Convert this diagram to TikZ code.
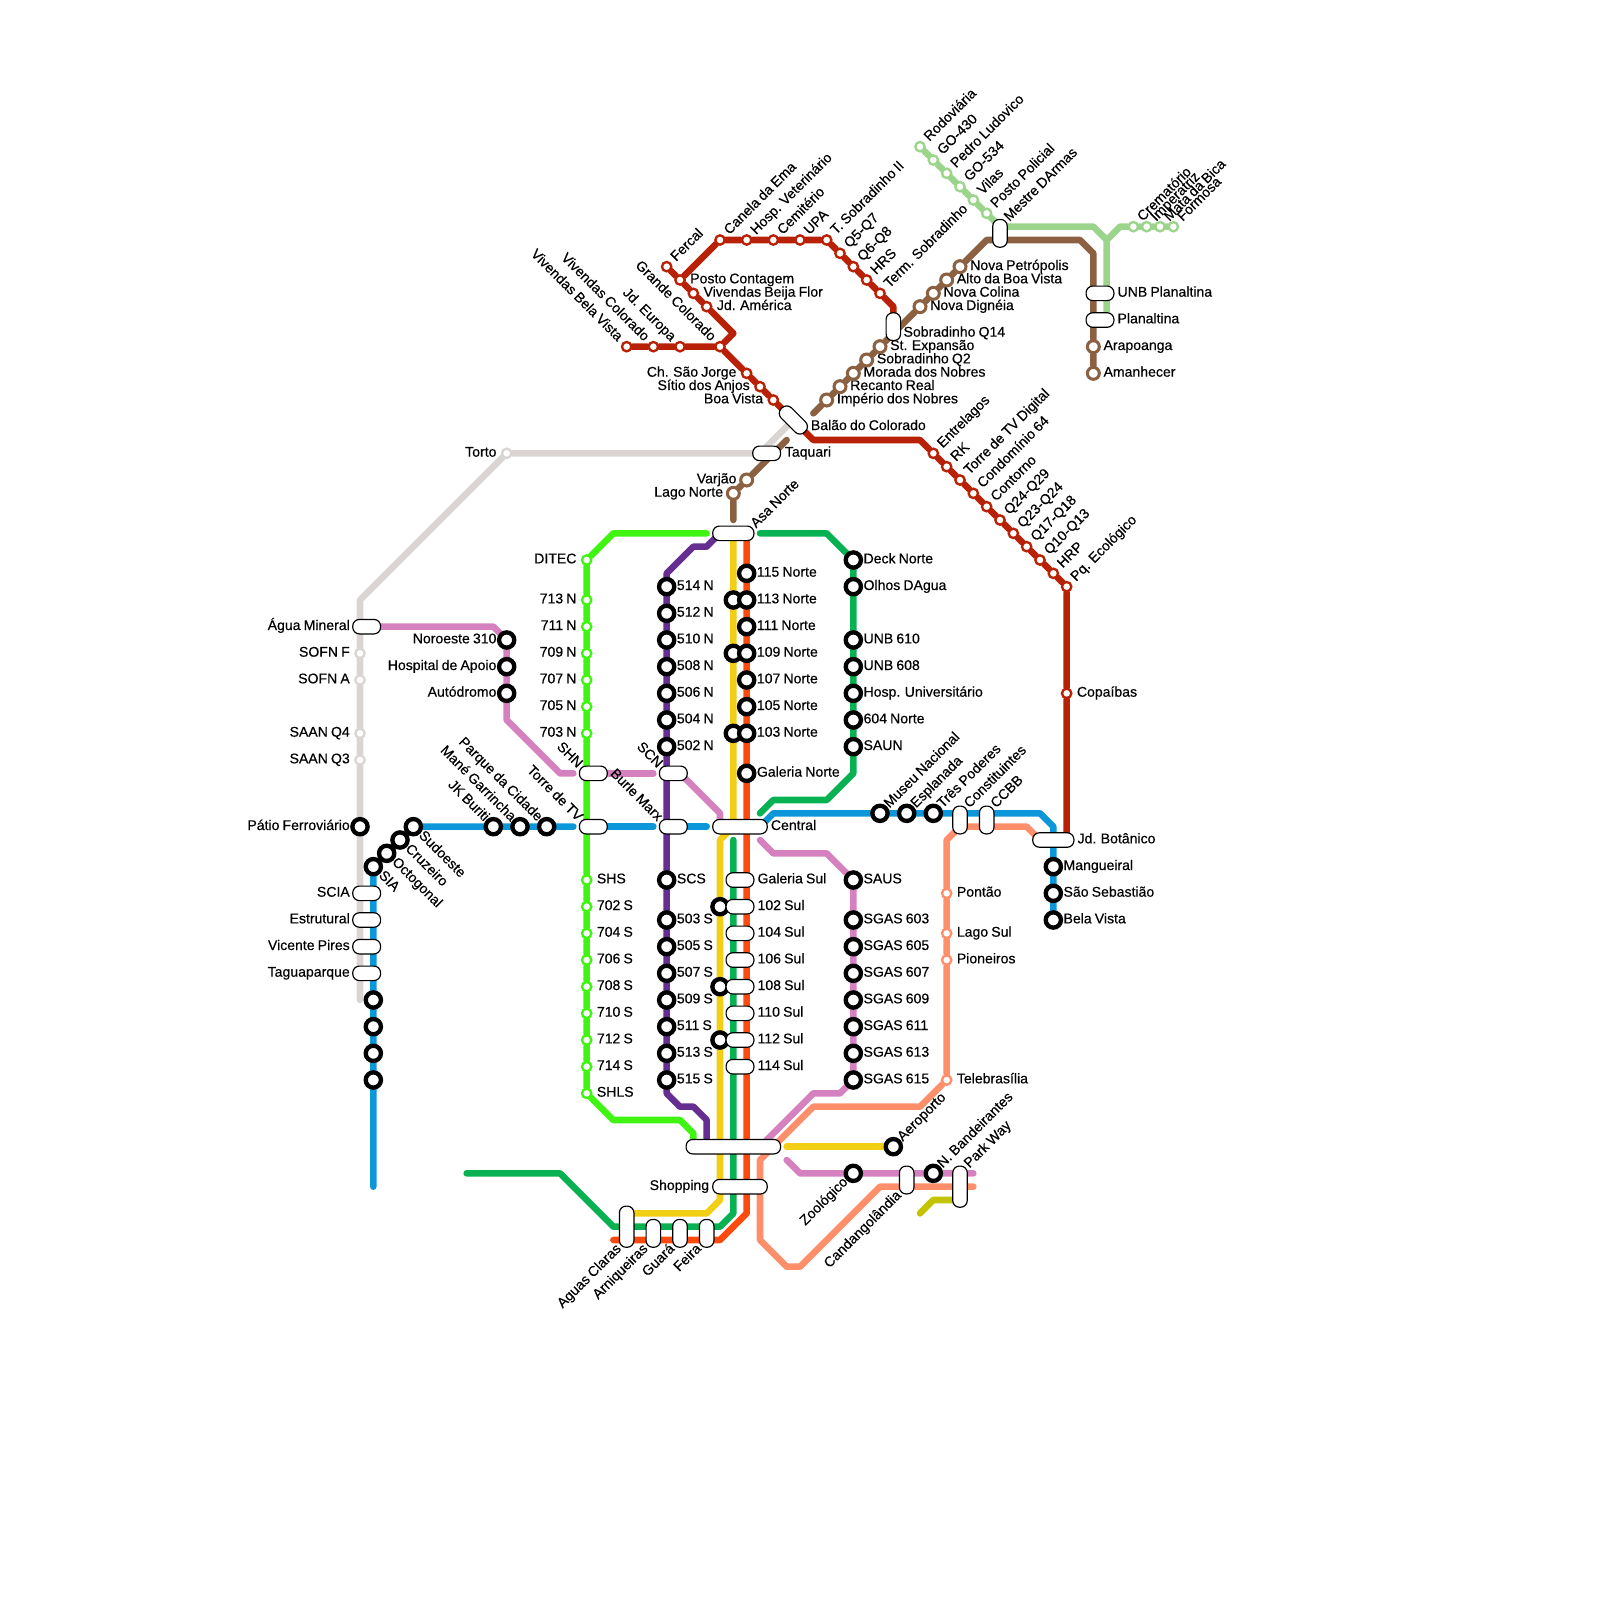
\documentclass[tikz,border=0pt]{standalone}
\usepackage{fontspec}
\setmainfont{Liberation Sans}[FakeBold=0.4,WordSpace=0.8]
\usepackage{xcolor}
\pgfdeclarelayer{lines}
\pgfsetlayers{lines,main}
\definecolor{lnRed}{HTML}{B82106}
\definecolor{lnBrown}{HTML}{8C6142}
\definecolor{lnLeaf}{HTML}{9BD48B}
\definecolor{lnGray}{HTML}{DAD5D3}
\definecolor{lnBlue}{HTML}{0B97DA}
\definecolor{lnPink}{HTML}{D681BF}
\definecolor{lnSalmon}{HTML}{FF8E6B}
\definecolor{lnLime}{HTML}{40F511}
\definecolor{lnPurple}{HTML}{662E91}
\definecolor{lnYellow}{HTML}{F2CE14}
\definecolor{lnGreen}{HTML}{08B152}
\definecolor{lnOrange}{HTML}{FF4A0E}
\definecolor{lnOlive}{HTML}{C3C300}
\tikzset{
  stopK/.style={circle, draw=black, fill=white, line width=3.7pt, minimum size=13pt, inner sep=0pt},
  stopS/.style={circle, draw=#1, fill=white, line width=2pt, minimum size=8pt, inner sep=0pt},
  stopM/.style={circle, draw=#1, fill=white, line width=2.6pt, minimum size=10.2pt, inner sep=0pt},
  boxH/.style={draw=black, fill=white, line width=1pt, rounded corners=2mm, minimum width=#1*4mm+1pt, minimum height=4mm+1pt, inner sep=0pt},
  boxV/.style={draw=black, fill=white, line width=1pt, rounded corners=2mm, minimum width=4mm+1pt, minimum height=#1*4mm+1pt, inner sep=0pt},
  lblTxt/.style={font=\fontsize{12}{14}\selectfont, inner sep=0pt},
  posE/.style n args={3}{append after command={node[lblTxt,anchor=base west,xshift=#1*4mm,yshift=(-1)*(#2)*4mm] (\tikzlastnode-t) at (\tikzlastnode.center) {#3}}},
  posW/.style n args={3}{append after command={node[lblTxt,anchor=base east,xshift=#1*4mm,yshift=(-1)*(#2)*4mm] (\tikzlastnode-t) at (\tikzlastnode.center) {#3}}},
  posNE/.style n args={3}{append after command={node[lblTxt,anchor=base west,xshift=#1*4mm,yshift=(-1)*(#2)*4mm,rotate=45] (\tikzlastnode-t) at (\tikzlastnode.center) {#3}}},
  posNW/.style n args={3}{append after command={node[lblTxt,anchor=base east,xshift=#1*4mm,yshift=(-1)*(#2)*4mm,rotate=-45] (\tikzlastnode-t) at (\tikzlastnode.center) {#3}}},
  posSE/.style n args={3}{append after command={node[lblTxt,anchor=base west,xshift=#1*4mm,yshift=(-1)*(#2)*4mm,rotate=-45] (\tikzlastnode-t) at (\tikzlastnode.center) {#3}}},
  posSW/.style n args={3}{append after command={node[lblTxt,anchor=base east,xshift=#1*4mm,yshift=(-1)*(#2)*4mm,rotate=45] (\tikzlastnode-t) at (\tikzlastnode.center) {#3}}},
  txtE/.style={posE={.75}{.25}{#1}},
  txtW/.style={posW={-.75}{.25}{#1}},
  txtNE/.style={posNE={.7}{-.35}{#1}},
  txtNW/.style={posNW={-.7}{-.35}{#1}},
  txtSE/.style={posSE={.35}{.7}{#1}},
  txtSW/.style={posSW={-.35}{.7}{#1}},
  metro/.style={draw=#1, line width=5.6pt, line cap=round, line join=round}
}
\begin{document}
\begin{tikzpicture}[x=0.4cm, y=-0.4cm]
    \useasboundingbox (0,0) rectangle (120,120);

    % 1. Vermelha
    \node[stopS=lnRed, txtNE={Fercal}] (fercal) at (50,20) {};
    \node[stopS=lnRed, txtE={Posto Contagem}] (contagem) at (51,21) {};
    \node[stopS=lnRed, txtE={Vivendas Beija Flor}] (beijaFlor) at (52,22) {};
    \node[stopS=lnRed, txtE={Jd. América}] (jdAmerica) at (53,23) {};
    \node[stopS=lnRed, txtNE={Canela da Ema}] (canela) at (54,18) {};
    \node[stopS=lnRed, txtNE={Hosp. Veterinário}] (hospVet) at (56,18) {};
    \node[stopS=lnRed, txtNE={Cemitério}] (cemiterio) at (58,18) {};
    \node[stopS=lnRed, txtNE={UPA}] (upa) at (60,18) {};
    \node[stopS=lnRed, txtNE={T. Sobradinho II}] (tSobII) at (62,18) {};
    \node[stopS=lnRed, txtNE={Q5-Q7}] (qFive) at (63,19) {};
    \node[stopS=lnRed, txtNE={Q6-Q8}] (qSix) at (64,20) {};
    \node[stopS=lnRed, txtNE={HRS}] (hrs) at (65,21) {};
    \node[stopS=lnRed, txtNE={Term. Sobradinho}] (termSob) at (66,22) {};
    \node[stopS=lnRed, txtNW={Vivendas Bela Vista}] (belaVistaV) at (47,26) {};
    \node[stopS=lnRed, txtNW={Vivendas Colorado}] (vivColorado) at (49,26) {};
    \node[stopS=lnRed, txtNW={Jd. Europa}] (jdEuropa) at (51,26) {};
    \node[stopS=lnRed, txtNW={Grande Colorado}] (grandeCol) at (54,26) {};
    \node[stopS=lnRed, txtW={Ch. São Jorge}] (chSaoJorge) at (56,28) {};
    \node[stopS=lnRed, txtW={Sítio dos Anjos}] (sitioAnjos) at (57,29) {};
    \node[stopS=lnRed, txtW={Boa Vista}] (boaVista) at (58,30) {};
    \node[stopS=lnRed, txtNE={Entrelagos}] (entrelagos) at (70,34) {};
    \node[stopS=lnRed, txtNE={RK}] (rk) at (71,35) {};
    \node[stopS=lnRed, txtNE={Torre de TV Digital}] (torreDig) at (72,36) {};
    \node[stopS=lnRed, txtNE={Condomínio 64}] (condominio) at (73,37) {};
    \node[stopS=lnRed, txtNE={Contorno}] (contorno) at (74,38) {};
    \node[stopS=lnRed, txtNE={Q24-Q29}] (qTwoFour) at (75,39) {};
    \node[stopS=lnRed, txtNE={Q23-Q24}] (qTwoThree) at (76,40) {};
    \node[stopS=lnRed, txtNE={Q17-Q18}] (qSeventeen) at (77,41) {};
    \node[stopS=lnRed, txtNE={Q10-Q13}] (qTen) at (78,42) {};
    \node[stopS=lnRed, txtNE={HRP}] (hrp) at (79,43) {};
    \node[stopS=lnRed, txtNE={Pq. Ecológico}] (pqEco) at (80,44) {};
    \node[stopS=lnRed, txtE={Copaíbas}] (copaibas) at (80,52) {};

    % 2. Marrom e verde claro
    \node[stopM=lnBrown, txtW={Lago Norte}] (lagoNorte) at (55,37) {};
    \node[stopM=lnBrown, txtW={Varjão}] (varjao) at (56,36) {};
    \node[stopM=lnBrown, txtE={Império dos Nobres}] (imperio) at (62,30) {};
    \node[stopM=lnBrown, txtE={Recanto Real}] (recanto) at (63,29) {};
    \node[stopM=lnBrown, txtE={Morada dos Nobres}] (morada) at (64,28) {};
    \node[stopM=lnBrown, txtE={Sobradinho Q2}] (sobQTwo) at (65,27) {};
    \node[stopM=lnBrown, txtE={St. Expansão}] (stExpansao) at (66,26) {};
    \node[stopM=lnBrown, txtE={Nova Dignéia}] (novaDigneia) at (69,23) {};
    \node[stopM=lnBrown, txtE={Nova Colina}] (novaColina) at (70,22) {};
    \node[stopM=lnBrown, txtE={Alto da Boa Vista}] (altoBoaVista) at (71,21) {};
    \node[stopM=lnBrown, txtE={Nova Petrópolis}] (novaPetro) at (72,20) {};
    \node[stopM=lnBrown, txtE={Arapoanga}] (arapoanga) at (82,26) {};
    \node[stopM=lnBrown, txtE={Amanhecer}] (amanhecer) at (82,28) {};
    \node[stopS=lnLeaf, txtNE={Rodoviária}] (rodoviaria) at (69,11) {};
    \node[stopS=lnLeaf, txtNE={GO-430}] (goFour) at (70,12) {};
    \node[stopS=lnLeaf, txtNE={Pedro Ludovico}] (pedroLud) at (71,13) {};
    \node[stopS=lnLeaf, txtNE={GO-534}] (goFive) at (72,14) {};
    \node[stopS=lnLeaf, txtNE={Vilas}] (vilas) at (73,15) {};
    \node[stopS=lnLeaf, txtNE={Posto Policial}] (postoPol) at (74,16) {};
    \node[stopS=lnLeaf, txtNE={Crematório}] (crematorio) at (85,17) {};
    \node[stopS=lnLeaf, txtNE={Imperatriz}] (imperatriz) at (86,17) {};
    \node[stopS=lnLeaf, txtNE={Mata da Bica}] (mataBica) at (87,17) {};
    \node[stopS=lnLeaf, txtNE={Formosa}] (formosa) at (88,17) {};

    % 3. Cinza, azul e rosa
    \node[stopS=lnGray, txtW={Torto}] (torto) at (38,34) {};
    \node[stopS=lnGray, txtW={SOFN F}] (sofnF) at (27,49) {};
    \node[stopS=lnGray, txtW={SOFN A}] (sofnA) at (27,51) {};
    \node[stopS=lnGray, txtW={SAAN Q4}] (saanQFour) at (27,55) {};
    \node[stopS=lnGray, txtW={SAAN Q3}] (saanQThree) at (27,57) {};
    \node[stopK, txtW={Pátio Ferroviário}] (patio) at (27,62) {};
    \node[stopK, txtSE={SIA}] (sia) at (28,65) {};
    \node[stopK, txtSE={Octogonal}] (octogonal) at (29,64) {};
    \node[stopK, txtSE={Cruzeiro}] (cruzeiro) at (30,63) {};
    \node[stopK, txtSE={Sudoeste}] (sudoeste) at (31,62) {};
    \node[stopK, txtNW={JK Buriti}] (jkBuriti) at (37,62) {};
    \node[stopK, txtNW={Mané Garrincha}] (maneGar) at (39,62) {};
    \node[stopK, txtNW={Parque da Cidade}] (parqueCid) at (41,62) {};
    \node[stopK] (oesteA) at (28,75) {};
    \node[stopK] (oesteB) at (28,77) {};
    \node[stopK] (oesteC) at (28,79) {};
    \node[stopK] (oesteD) at (28,81) {};
    \node[stopK, txtNE={Museu Nacional}] (museu) at (66,61) {};
    \node[stopK, txtNE={Esplanada}] (esplanada) at (68,61) {};
    \node[stopK, txtNE={Três Poderes}] (tresPod) at (70,61) {};
    \node[stopK, txtE={Mangueiral}] (mangueiral) at (79,65) {};
    \node[stopK, txtE={São Sebastião}] (saoSeb) at (79,67) {};
    \node[stopK, txtE={Bela Vista}] (belaVista) at (79,69) {};
    \node[stopK, txtW={Noroeste 310}] (noroeste) at (38,48) {};
    \node[stopK, txtW={Hospital de Apoio}] (hospApoio) at (38,50) {};
    \node[stopK, txtW={Autódromo}] (autodromo) at (38,52) {};
    \node[stopK, txtE={SAUS}] (saus) at (64,66) {};
    \node[stopK, txtE={SGAS 603}] (sgasA) at (64,69) {};
    \node[stopK, txtE={SGAS 605}] (sgasB) at (64,71) {};
    \node[stopK, txtE={SGAS 607}] (sgasC) at (64,73) {};
    \node[stopK, txtE={SGAS 609}] (sgasD) at (64,75) {};
    \node[stopK, txtE={SGAS 611}] (sgasE) at (64,77) {};
    \node[stopK, txtE={SGAS 613}] (sgasF) at (64,79) {};
    \node[stopK, txtE={SGAS 615}] (sgasG) at (64,81) {};
    \node[stopK, txtSW={Zoológico}] (zoologico) at (64,88) {};
    \node[stopK, txtNE={N. Bandeirantes}] (nBandeir) at (70,88) {};

    % 4. Salmao
    \node[stopS=lnSalmon, txtE={Pontão}] (pontao) at (71,67) {};
    \node[stopS=lnSalmon, txtE={Lago Sul}] (lagoSul) at (71,70) {};
    \node[stopS=lnSalmon, txtE={Pioneiros}] (pioneiros) at (71,72) {};
    \node[stopS=lnSalmon, txtE={Telebrasília}] (telebras) at (71,81) {};

    % 5. Verde limao
    \node[stopS=lnLime, txtW={DITEC}] (ditec) at (44,42) {};
    \node[stopS=lnLime, txtW={713 N}] (nSevenA) at (44,45) {};
    \node[stopS=lnLime, txtW={711 N}] (nSevenB) at (44,47) {};
    \node[stopS=lnLime, txtW={709 N}] (nSevenC) at (44,49) {};
    \node[stopS=lnLime, txtW={707 N}] (nSevenD) at (44,51) {};
    \node[stopS=lnLime, txtW={705 N}] (nSevenE) at (44,53) {};
    \node[stopS=lnLime, txtW={703 N}] (nSevenF) at (44,55) {};
    \node[stopS=lnLime, txtE={SHS}] (shs) at (44,66) {};
    \node[stopS=lnLime, txtE={702 S}] (sSevenA) at (44,68) {};
    \node[stopS=lnLime, txtE={704 S}] (sSevenB) at (44,70) {};
    \node[stopS=lnLime, txtE={706 S}] (sSevenC) at (44,72) {};
    \node[stopS=lnLime, txtE={708 S}] (sSevenD) at (44,74) {};
    \node[stopS=lnLime, txtE={710 S}] (sSevenE) at (44,76) {};
    \node[stopS=lnLime, txtE={712 S}] (sSevenF) at (44,78) {};
    \node[stopS=lnLime, txtE={714 S}] (sSevenG) at (44,80) {};
    \node[stopS=lnLime, txtE={SHLS}] (shls) at (44,82) {};

    % 6. Roxa
    \node[stopK, txtE={514 N}] (nFiveA) at (50,44) {};
    \node[stopK, txtE={512 N}] (nFiveB) at (50,46) {};
    \node[stopK, txtE={510 N}] (nFiveC) at (50,48) {};
    \node[stopK, txtE={508 N}] (nFiveD) at (50,50) {};
    \node[stopK, txtE={506 N}] (nFiveE) at (50,52) {};
    \node[stopK, txtE={504 N}] (nFiveF) at (50,54) {};
    \node[stopK, txtE={502 N}] (nFiveG) at (50,56) {};
    \node[stopK, txtE={SCS}] (scs) at (50,66) {};
    \node[stopK, txtE={503 S}] (sFiveA) at (50,69) {};
    \node[stopK, txtE={505 S}] (sFiveB) at (50,71) {};
    \node[stopK, txtE={507 S}] (sFiveC) at (50,73) {};
    \node[stopK, txtE={509 S}] (sFiveD) at (50,75) {};
    \node[stopK, txtE={511 S}] (sFiveE) at (50,77) {};
    \node[stopK, txtE={513 S}] (sFiveF) at (50,79) {};
    \node[stopK, txtE={515 S}] (sFiveG) at (50,81) {};

    % 7. Amarela, verde e laranja
    \node[stopK] (amarA) at (55,45) {};
    \node[stopK] (amarB) at (55,49) {};
    \node[stopK] (amarC) at (55,55) {};
    \node[stopK] (amarD) at (54,68) {};
    \node[stopK] (amarE) at (54,74) {};
    \node[stopK] (amarF) at (54,78) {};
    \node[stopK, txtNE={Aeroporto}] (aeroporto) at (67,86) {};
    \node[stopK, txtE={Deck Norte}] (deckNorte) at (64,42) {};
    \node[stopK, txtE={Olhos DAgua}] (olhosDagua) at (64,44) {};
    \node[stopK, txtE={UNB 610}] (unbSixTen) at (64,48) {};
    \node[stopK, txtE={UNB 608}] (unbSixEight) at (64,50) {};
    \node[stopK, txtE={Hosp. Universitário}] (hospUniv) at (64,52) {};
    \node[stopK, txtE={604 Norte}] (sixNorte) at (64,54) {};
    \node[stopK, txtE={SAUN}] (saun) at (64,56) {};
    \node[stopK, txtE={115 Norte}] (norteA) at (56,43) {};
    \node[stopK, txtE={113 Norte}] (norteB) at (56,45) {};
    \node[stopK, txtE={111 Norte}] (norteC) at (56,47) {};
    \node[stopK, txtE={109 Norte}] (norteD) at (56,49) {};
    \node[stopK, txtE={107 Norte}] (norteE) at (56,51) {};
    \node[stopK, txtE={105 Norte}] (norteF) at (56,53) {};
    \node[stopK, txtE={103 Norte}] (norteG) at (56,55) {};
    \node[stopK, txtE={Galeria Norte}] (galeriaN) at (56,58) {};

    % 8. Integracoes
    \node[boxH=2, posW={-1.25}{.25}{Água Mineral}] (aguaMin) at (27.5,47) {};
    \node[boxH=2, posW={-1.25}{.25}{SCIA}] (scia) at (27.5,67) {};
    \node[boxH=2, posW={-1.25}{.25}{Estrutural}] (estrutural) at (27.5,69) {};
    \node[boxH=2, posW={-1.25}{.25}{Vicente Pires}] (vicente) at (27.5,71) {};
    \node[boxH=2, posW={-1.25}{.25}{Taguaparque}] (tagua) at (27.5,73) {};
    \node[boxH=2, posNW={-1.2}{-.35}{SHN}] (shn) at (44.5,58) {};
    \node[boxH=2, posNW={-1.2}{-.35}{Torre de TV}] (torreTV) at (44.5,62) {};
    \node[boxH=2, posNW={-1.2}{-.35}{SCN}] (scn) at (50.5,58) {};
    \node[boxH=2, posNW={-1.2}{-.35}{Burle Marx}] (burle) at (50.5,62) {};
    \node[boxH=3, posNE={1.7}{-.35}{Asa Norte}] (asaNorte) at (55,40) {};
    \node[boxH=4, posE={2.3}{.25}{Central}] (central) at (55.5,62) {};
    \node[boxH=2, posE={1.35}{.25}{Taquari}] (taquari) at (57.5,34) {};
    \node[boxH=2.4, rotate=-45, posE={1.3}{.75}{Balão do Colorado}] (balao) at (59.5,31.5) {};
    \node[boxV=2, posE={.75}{.75}{Sobradinho Q14}] (sobQFourteen) at (67,24.5) {};
    \node[boxV=2, posNE={.7}{-.85}{Mestre DArmas}] (mestre) at (75,17.5) {};
    \node[boxH=2, posE={1.3}{.25}{UNB Planaltina}] (unbPlan) at (82.5,22) {};
    \node[boxH=2, posE={1.3}{.25}{Planaltina}] (planaltina) at (82.5,24) {};
    \node[boxV=2, posNE={.7}{-.85}{Constituintes}] (constit) at (72,61.5) {};
    \node[boxV=2, posNE={.7}{-.85}{CCBB}] (ccbb) at (74,61.5) {};
    \node[boxH=3, posE={1.8}{.25}{Jd. Botânico}] (botanico) at (79,63) {};
    \node[boxH=2, posE={1.3}{.25}{Galeria Sul}] (galeriaS) at (55.5,66) {};
    \node[boxH=2, posE={1.3}{.25}{102 Sul}] (sulA) at (55.5,68) {};
    \node[boxH=2, posE={1.3}{.25}{104 Sul}] (sulB) at (55.5,70) {};
    \node[boxH=2, posE={1.3}{.25}{106 Sul}] (sulC) at (55.5,72) {};
    \node[boxH=2, posE={1.3}{.25}{108 Sul}] (sulD) at (55.5,74) {};
    \node[boxH=2, posE={1.3}{.25}{110 Sul}] (sulE) at (55.5,76) {};
    \node[boxH=2, posE={1.3}{.25}{112 Sul}] (sulF) at (55.5,78) {};
    \node[boxH=2, posE={1.3}{.25}{114 Sul}] (sulG) at (55.5,80) {};
    \node[boxH=7] (rodoCentral) at (55,86) {};
    \node[boxH=4, posW={-2.3}{.25}{Shopping}] (shopping) at (55.5,89) {};
    \node[boxV=3, posSW={-.35}{1.7}{Aguas Claras}] (aguasClaras) at (47,92) {};
    \node[boxV=2, posSW={-.35}{1.2}{Arniqueiras}] (arniqueiras) at (49,92.5) {};
    \node[boxV=2, posSW={-.35}{1.2}{Guará}] (guara) at (51,92.5) {};
    \node[boxV=2, posSW={-.35}{1.2}{Feira}] (feira) at (53,92.5) {};
    \node[boxV=2, posSW={-.35}{1.2}{Candangolândia}] (candango) at (68,88.5) {};
    \node[boxV=3, posNE={.7}{-1.35}{Park Way}] (parkWay) at (72,89) {};

    % 9. Linhas por baixo das estacoes
    \begin{pgfonlayer}{lines}
    \draw[metro=lnGray] (27,75) -- (patio) -- (saanQThree) -- (saanQFour) -- (sofnA) -- (sofnF) -- (27,45) -- (torto) -- (57,34) -- (balao);
    \draw[metro=lnRed] (fercal) -- (contagem) -- (beijaFlor) -- (jdAmerica) -- (55,25) -- (grandeCol);
    \draw[metro=lnRed] (contagem) -- (canela) -- (hospVet) -- (cemiterio) -- (upa) -- (tSobII) -- (qFive) -- (qSix) -- (hrs) -- (termSob) -- (67,23) -- (sobQFourteen);
    \draw[metro=lnRed] (belaVistaV) -- (vivColorado) -- (jdEuropa) -- (grandeCol) -- (chSaoJorge) -- (sitioAnjos) -- (boaVista) -- (61,33) -- (69,33) -- (entrelagos) -- (rk) -- (torreDig) -- (condominio) -- (contorno) -- (qTwoFour) -- (qTwoThree) -- (qSeventeen) -- (qTen) -- (hrp) -- (pqEco) -- (copaibas) -- (80,63);
    \draw[metro=lnBrown] (55,39) -- (lagoNorte) -- (varjao) -- (59,33);
    \draw[metro=lnBrown] (61,31) -- (imperio) -- (recanto) -- (morada) -- (sobQTwo) -- (stExpansao) -- (novaDigneia) -- (novaColina) -- (altoBoaVista) -- (novaPetro) -- (74,18) -- (81,18) -- (82,19) -- (arapoanga) -- (amanhecer);
    \draw[metro=lnLeaf] (rodoviaria) -- (goFour) -- (pedroLud) -- (goFive) -- (vilas) -- (postoPol) -- (75,17) -- (82,17) -- (83,18) -- (83,24);
    \draw[metro=lnLeaf] (83,18) -- (84,17) -- (crematorio) -- (imperatriz) -- (mataBica) -- (formosa);
    \draw[metro=lnBlue] (28,89) -- (oesteD) -- (oesteC) -- (oesteB) -- (oesteA) -- (sia) -- (octogonal) -- (cruzeiro) -- (sudoeste) -- (jkBuriti) -- (maneGar) -- (parqueCid) -- (43,62);
    \draw[metro=lnBlue] (torreTV) -- (49,62);
    \draw[metro=lnBlue] (burle) -- (53,62);
    \draw[metro=lnBlue] (57,62) -- (58,61) -- (museu) -- (esplanada) -- (tresPod) -- (78,61) -- (79,62) -- (mangueiral) -- (saoSeb) -- (belaVista);
    \draw[metro=lnPink] (aguaMin) -- (37,47) -- (noroeste) -- (hospApoio) -- (autodromo) -- (38,54) -- (42,58) -- (43,58);
    \draw[metro=lnPink] (shn) -- (49,58);
    \draw[metro=lnPink] (51,58) -- (54,61) -- (54,62);
    \draw[metro=lnPink] (57,63) -- (58,64) -- (62,64) -- (saus) -- (sgasA) -- (sgasB) -- (sgasC) -- (sgasD) -- (sgasE) -- (sgasF) -- (sgasG) -- (63,82) -- (61,82) -- (57,86);
    \draw[metro=lnPink] (59,87) -- (60,88) -- (zoologico) -- (nBandeir) -- (73,88);
    \draw[metro=lnSalmon] (58,86) -- (61,83) -- (69,83) -- (telebras) -- (pioneiros) -- (lagoSul) -- (pontao) -- (71,63) -- (72,62) -- (77,62) -- (78,63);
    \draw[metro=lnSalmon] (58,86) -- (57,87) -- (57,93) -- (59,95) -- (60,95) -- (66,89) -- (73,89);
    \draw[metro=lnLime] (53,40) -- (46,40) -- (ditec) -- (nSevenA) -- (nSevenB) -- (nSevenC) -- (nSevenD) -- (nSevenE) -- (nSevenF) -- (shs) -- (sSevenA) -- (sSevenB) -- (sSevenC) -- (sSevenD) -- (sSevenE) -- (sSevenF) -- (sSevenG) -- (shls) -- (46,84) -- (51,84) -- (52,85) -- (52,86);
    \draw[metro=lnPurple] (54,40) -- (53,41) -- (52,41) -- (50,43) -- (nFiveA) -- (nFiveB) -- (nFiveC) -- (nFiveD) -- (nFiveE) -- (nFiveF) -- (nFiveG) -- (scs) -- (sFiveA) -- (sFiveB) -- (sFiveC) -- (sFiveD) -- (sFiveE) -- (sFiveF) -- (sFiveG) -- (50,82) -- (51,83) -- (52,83) -- (53,84) -- (53,86);
    \draw[metro=lnYellow] (55,40) -- (amarA) -- (amarB) -- (amarC) -- (55,62) -- (54,63) -- (amarD) -- (amarE) -- (amarF) -- (54,90) -- (53,91) -- (47,91);
    \draw[metro=lnYellow] (59,86) -- (aeroporto);
    \draw[metro=lnGreen] (57,40) -- (62,40) -- (deckNorte) -- (olhosDagua) -- (unbSixTen) -- (unbSixEight) -- (hospUniv) -- (sixNorte) -- (saun) -- (64,58) -- (62,60) -- (58,60) -- (57,61);
    \draw[metro=lnGreen] (55,63) -- (55,91) -- (54,92) -- (46,92) -- (42,88) -- (35,88);
    \draw[metro=lnOrange] (56,40) -- (norteA) -- (norteB) -- (norteC) -- (norteD) -- (norteE) -- (norteF) -- (norteG) -- (galeriaN) -- (56,91) -- (54,93) -- (46,93);
    \draw[metro=lnOlive] (69,91) -- (70,90) -- (72,90);
    \end{pgfonlayer}
\end{tikzpicture}
\end{document}
